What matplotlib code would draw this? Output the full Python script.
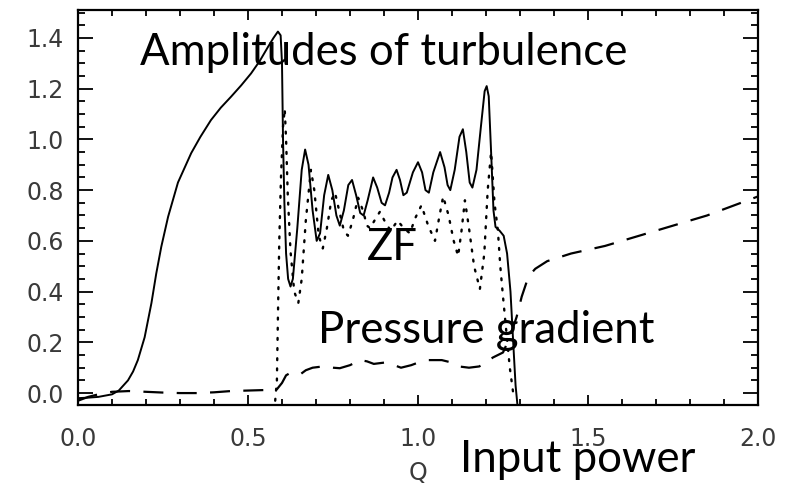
import matplotlib
matplotlib.use('Agg')
import matplotlib.pyplot as plt
from matplotlib.ticker import MultipleLocator

# turbulence amplitude (solid)
q_turb = [0.00, 0.03, 0.06, 0.08, 0.10, 0.12, 0.147, 0.162, 0.176, 0.196, 0.216, 0.230,
          0.245, 0.265, 0.294, 0.333, 0.360, 0.391, 0.420, 0.450, 0.480, 0.509, 0.535,
          0.559, 0.575, 0.588, 0.596, 0.600, 0.603,
          0.607, 0.612, 0.618, 0.625, 0.632, 0.645, 0.658, 0.668, 0.678, 0.690, 0.702, 0.712,
          0.724, 0.736, 0.748, 0.760, 0.770, 0.782, 0.795, 0.806, 0.818, 0.830, 0.840, 0.852,
          0.868, 0.880, 0.893, 0.903, 0.915, 0.925, 0.937, 0.947, 0.957, 0.967, 0.985, 1.000,
          1.012, 1.022, 1.032, 1.045, 1.065, 1.078, 1.087, 1.095, 1.108, 1.122, 1.132, 1.142,
          1.152, 1.160, 1.172, 1.185, 1.196, 1.202, 1.208, 1.215, 1.222, 1.228, 1.240, 1.252,
          1.262, 1.272, 1.280, 1.287, 1.292]
a_turb = [-0.02, -0.018, -0.015, -0.01, -0.005, 0.01, 0.05, 0.085, 0.13, 0.22, 0.355, 0.47,
          0.577, 0.695, 0.83, 0.946, 1.01, 1.076, 1.125, 1.168, 1.213, 1.26, 1.31,
          1.365, 1.40, 1.425, 1.41, 1.30, 1.00,
          0.75, 0.55, 0.45, 0.42, 0.45, 0.65, 0.88, 0.96, 0.90, 0.72, 0.60, 0.63,
          0.78, 0.86, 0.80, 0.70, 0.66, 0.72, 0.82, 0.84, 0.78, 0.71, 0.70, 0.76,
          0.85, 0.81, 0.75, 0.74, 0.79, 0.85, 0.88, 0.84, 0.78, 0.79, 0.87, 0.91,
          0.87, 0.80, 0.79, 0.87, 0.95, 0.89, 0.82, 0.80, 0.88, 1.01, 1.04, 0.95,
          0.83, 0.81, 0.88, 1.05, 1.19, 1.21, 1.17, 0.95, 0.72, 0.655, 0.64, 0.62,
          0.55, 0.40, 0.20, 0.03, -0.04]

# zonal flow (dotted)
q_zf = [0.580, 0.585, 0.588, 0.592, 0.597, 0.603, 0.608, 0.612, 0.617, 0.625, 0.636, 0.648,
        0.658, 0.670, 0.685, 0.695, 0.708, 0.720, 0.732, 0.745, 0.756, 0.768, 0.782, 0.794,
        0.808, 0.824, 0.838, 0.850, 0.859, 0.872, 0.888, 0.905, 0.920, 0.930, 0.940, 0.958,
        0.976, 0.992, 1.010, 1.030, 1.050, 1.062, 1.074, 1.090, 1.105, 1.118, 1.128, 1.138,
        1.150, 1.165, 1.182, 1.195, 1.205, 1.215, 1.225, 1.235, 1.242, 1.250, 1.260, 1.270,
        1.280]
a_zf = [-0.03, 0.05, 0.30, 0.60, 0.85, 1.05, 1.12, 1.00, 0.78, 0.56, 0.40, 0.355,
        0.45, 0.68, 0.88, 0.80, 0.62, 0.57, 0.65, 0.76, 0.79, 0.72, 0.64, 0.62,
        0.68, 0.77, 0.72, 0.66, 0.65, 0.68, 0.715, 0.67, 0.64, 0.66, 0.68, 0.65,
        0.63, 0.69, 0.74, 0.66, 0.60, 0.69, 0.775, 0.70, 0.60, 0.54, 0.64, 0.76,
        0.65, 0.50, 0.41, 0.55, 0.80, 0.95, 0.75, 0.64, 0.50, 0.38, 0.24, 0.10,
        0.00]

# pressure gradient (dashed)
q_pg = [0.00, 0.03, 0.06, 0.10, 0.15, 0.20, 0.25, 0.30, 0.35, 0.40, 0.45, 0.50, 0.55, 0.585,
        0.600, 0.612, 0.625, 0.640, 0.655, 0.670, 0.690, 0.720, 0.750, 0.770, 0.800, 0.830,
        0.850, 0.870, 0.900, 0.930, 0.950, 0.980, 1.000, 1.030, 1.070, 1.100, 1.120, 1.150,
        1.180, 1.200, 1.220, 1.250, 1.270, 1.290, 1.305, 1.325, 1.345, 1.38, 1.45, 1.55,
        1.65, 1.75, 1.85, 1.95, 2.00]
a_pg = [-0.03, -0.015, -0.005, 0.005, 0.008, 0.005, 0.002, 0.0, 0.0, 0.003, 0.008, 0.01, 0.012, 0.015,
        0.04, 0.07, 0.08, 0.08, 0.075, 0.09, 0.10, 0.105, 0.10, 0.098, 0.11, 0.13,
        0.125, 0.115, 0.12, 0.11, 0.10, 0.11, 0.12, 0.13, 0.13, 0.12, 0.105, 0.10,
        0.105, 0.12, 0.14, 0.16, 0.22, 0.30, 0.38, 0.46, 0.49, 0.52, 0.55, 0.58,
        0.62, 0.66, 0.70, 0.75, 0.775]

xticks = [0.0, 0.5, 1.0, 1.5, 2.0]
yticks = [0.0, 0.2, 0.4, 0.6, 0.8, 1.0, 1.2, 1.4]

fig = plt.figure(figsize=(7.86, 4.88), dpi=100)
ax = fig.add_axes([78 / 786, 83 / 488, 680 / 786, 395 / 488])

ax.plot(q_turb, a_turb, color='black', lw=1.4)
ax.plot(q_zf, a_zf, color='black', lw=1.7, ls=(0, (0.8, 3.5)), dash_capstyle='round')
ax.plot(q_pg, a_pg, color='black', lw=1.6, ls=(0, (9, 6)))

ax.set_xlim(0, 2)
ax.set_ylim(-0.047, 1.51)
ax.set_xticks(xticks)
ax.set_xticklabels(['%.1f' % t for t in xticks])
ax.set_yticks(yticks)
ax.set_yticklabels(['%.1f' % t for t in yticks])
ax.xaxis.set_minor_locator(MultipleLocator(0.1))
ax.yaxis.set_minor_locator(MultipleLocator(0.05))

for s in ax.spines.values():
    s.set_linewidth(1.6)
ax.tick_params(which='both', direction='in', top=True, right=True, width=1.3,
               labelsize=17, labelcolor='#3a3a3a')
ax.tick_params(axis='x', which='major', length=7, pad=16)
ax.tick_params(axis='x', which='minor', length=4)
ax.tick_params(axis='y', which='major', length=11, pad=10)
ax.tick_params(axis='y', which='minor', length=5)

ax.set_xlabel('Q', fontsize=17, color='#3a3a3a')
ax.xaxis.set_label_coords(0.5, -0.142)

txt = dict(family=['Lato', 'DejaVu Sans'], fontsize=31.5, color='black', va='baseline')
ax.text(0.182, 1.293, 'Amplitudes of turbulence', **txt)
ax.text(0.85, 0.524, 'ZF', **txt)
ax.text(0.706, 0.197, 'Pressure gradient', **txt)
ax.text(1.124, -0.311, 'Input power', clip_on=False, **txt)

fig.savefig('out.png', dpi=100)
